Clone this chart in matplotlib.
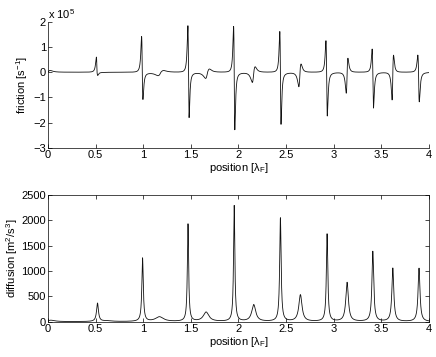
import numpy as np
import matplotlib
matplotlib.use("Agg")
import matplotlib.pyplot as plt

plt.rcParams["font.family"] = ["Liberation Sans", "DejaVu Sans"]
plt.rcParams["mathtext.default"] = "regular"
plt.rcParams["font.size"] = 8

# friction, units of 1e5 s^-1; main resonances: positive lobe left, negative lobe right
fric_main_x = [0.515, 0.99, 1.475, 1.955, 2.44, 2.925, 3.41, 3.89]
fric_main_up = [0.60, 1.42, 1.85, 1.82, 1.62, 1.25, 0.92, 0.68]
fric_main_down = [0.12, 1.05, 1.78, 2.26, 2.04, 1.71, 1.40, 1.16]
fric_main_w = [0.012, 0.012, 0.011, 0.011, 0.011, 0.012, 0.012, 0.013]
# broad negative shoulder right after each main resonance
fric_shoulder = [0.02, 0.06, 0.06, 0.07, 0.08, 0.06, 0.05, 0.04]
# side resonances: negative lobe left, positive lobe right
fric_side_x = [0.0, 1.185, 1.675, 2.16, 2.645, 3.14, 3.62]
fric_side_down = [0.07, 0.13, 0.24, 0.40, 0.57, 0.83, 1.10]
fric_side_up = [0.07, 0.07, 0.13, 0.22, 0.33, 0.56, 0.68]
fric_side_w = [0.04, 0.05, 0.035, 0.026, 0.02, 0.015, 0.013]

# diffusion, m^2/s^3
diff_x = [0.03, 0.52, 0.62, 0.993, 1.17, 1.47, 1.66, 1.955, 2.16, 2.44,
          2.65, 2.93, 3.14, 3.41, 3.62, 3.895]
diff_h = [28, 362, 15, 1250, 92, 1920, 184, 2283, 330, 2040,
          526, 1724, 770, 1382, 1053, 1053]
diff_w = [0.05, 0.012, 0.06, 0.009, 0.05, 0.008, 0.035, 0.008, 0.025, 0.009,
          0.02, 0.009, 0.016, 0.011, 0.012, 0.012]

x = np.linspace(0, 4, 4001)


def lobe(x, x0, left, right, w):
    # derivative-of-Lorentzian profile: +left on the left side, -right on the right side
    u = (x - x0) / w
    s = -2 * u / (1 + u ** 2) ** 2 / 0.6495
    return np.where(u < 0, s * left, s * right)


fric = np.zeros_like(x)
for x0, a, b, w, sh in zip(fric_main_x, fric_main_up, fric_main_down, fric_main_w, fric_shoulder):
    fric += lobe(x, x0, a, b, w)
    d = x - x0
    fric -= np.where(d > 0, sh * (1 - np.exp(-d / 0.01)) * np.exp(-d / 0.08), 0)
for x0, a, b, w in zip(fric_side_x, fric_side_down, fric_side_up, fric_side_w):
    fric -= lobe(x, x0, a, b, w)

diff = np.zeros_like(x)
for x0, h, w in zip(diff_x, diff_h, diff_w):
    diff += h / (1 + ((x - x0) / w) ** 2)

fig = plt.figure(figsize=(4.36, 3.57), dpi=100)
ax1 = fig.add_axes([0.110, 0.586, 0.874, 0.353])
ax2 = fig.add_axes([0.110, 0.099, 0.874, 0.355])

xticks = [0, 0.5, 1, 1.5, 2, 2.5, 3, 3.5, 4]
xticklabels = ["0", "0.5", "1", "1.5", "2", "2.5", "3", "3.5", "4"]

ax1.plot(x, fric, color="#111111", lw=0.6)
ax1.set_xlim(0, 4)
ax1.set_ylim(-3, 2)
ax1.set_yticks(range(-3, 3))
ax1.set_yticklabels(["\u22123", "\u22122", "\u22121", "0", "1", "2"])
ax1.set_xticks(xticks)
ax1.set_xticklabels(xticklabels)
ax1.spines["top"].set_visible(False)
ax1.spines["right"].set_visible(False)
ax1.set_ylabel("friction [s$^{-1}$]", labelpad=2)
ax1.set_xlabel("position [\u03bb$_F$]", labelpad=1)
ax1.text(0.0, 1.01, "x 10$^5$", transform=ax1.transAxes, ha="left", va="bottom")

ax2.plot(x, diff, color="#111111", lw=0.6)
ax2.set_xlim(0, 4)
ax2.set_ylim(0, 2500)
ax2.set_yticks(range(0, 2501, 500))
ax2.set_xticks(xticks)
ax2.set_xticklabels(xticklabels)
ax2.tick_params(top=True, right=True)
ax2.set_ylabel("diffusion [m$^2$/s$^3$]", labelpad=1)
ax2.set_xlabel("position [\u03bb$_F$]", labelpad=1)

for ax in (ax1, ax2):
    ax.tick_params(direction="in", length=3, width=0.5, pad=1.5, labelsize=8)
    for sp in ax.spines.values():
        sp.set_linewidth(0.5)

fig.savefig("out.png", dpi=100)
